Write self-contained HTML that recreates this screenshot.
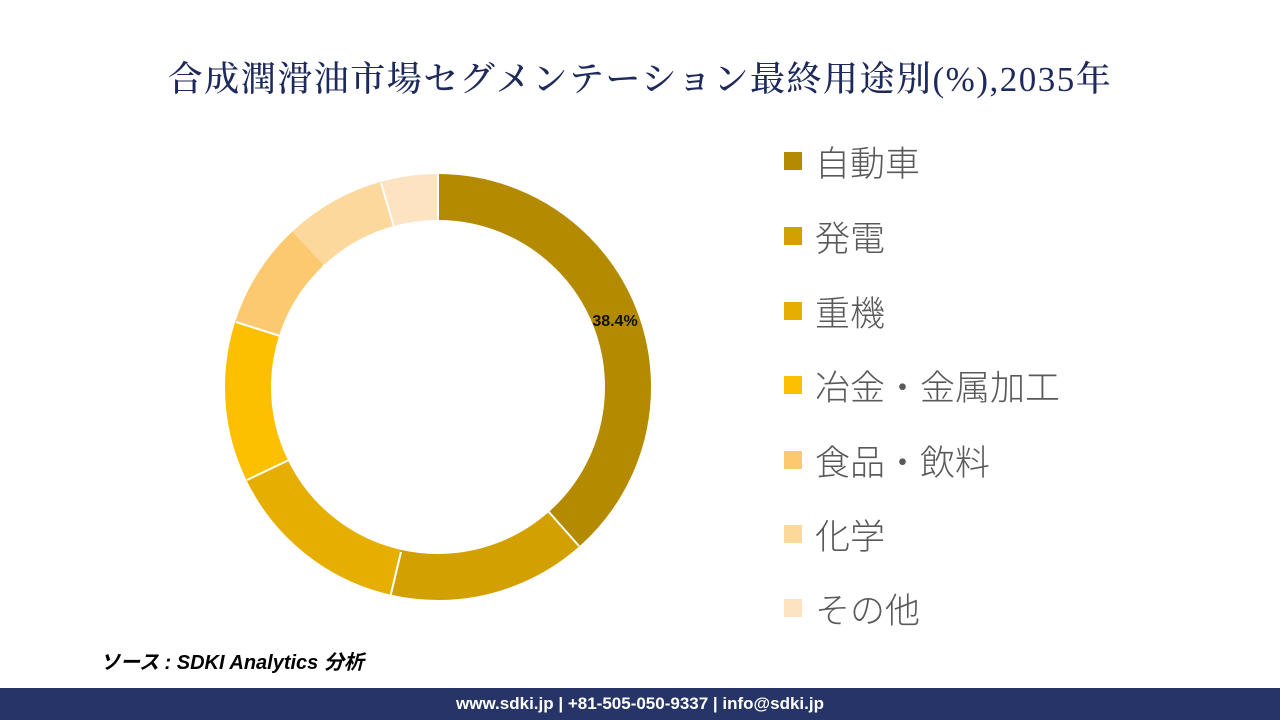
<!DOCTYPE html>
<html><head><meta charset="utf-8"><style>
body{margin:0;width:1280px;height:720px;background:#fff;position:relative;overflow:hidden;font-family:"Liberation Sans","Noto Sans CJK JP",sans-serif}
.title{position:absolute;top:52px;left:0;width:1280px;text-align:center;font-family:"Liberation Serif","Noto Serif CJK SC",serif;font-size:35px;letter-spacing:1.5px;color:#1f2a5c;font-weight:500}
.leg{position:absolute;left:784px;height:40px;display:flex;align-items:center}
.leg i{display:block;width:18px;height:18px;margin-right:13px}
.leg span{font-size:35px;color:#595959;font-weight:300}
.src{position:absolute;left:100px;top:646px;font-size:20px;font-style:italic;font-weight:bold;color:#000}
.foot{position:absolute;left:0;top:688px;width:1280px;height:32px;background:#263467;color:#fff;font-weight:bold;font-size:17px;text-align:center;line-height:32px}
</style></head><body>
<div class="title">合成潤滑油市場セグメンテーション最終用途別(%),2035年</div>
<svg width="1280" height="720" style="position:absolute;left:0;top:0">
<g transform="rotate(-90 438 387)" fill="none" stroke-width="46">
<circle cx="438" cy="387" r="190" stroke="#b38a00" stroke-dasharray="458.4 2000" stroke-dashoffset="0"/>
<circle cx="438" cy="387" r="190" stroke="#d2a000" stroke-dasharray="181.5 2000" stroke-dashoffset="-458.4"/>
<circle cx="438" cy="387" r="190" stroke="#e6ae00" stroke-dasharray="169.5 2000" stroke-dashoffset="-639.9"/>
<circle cx="438" cy="387" r="190" stroke="#fdc000" stroke-dasharray="145.6 2000" stroke-dashoffset="-809.4"/>
<circle cx="438" cy="387" r="190" stroke="#fcc970" stroke-dasharray="95.5 2000" stroke-dashoffset="-955.0"/>
<circle cx="438" cy="387" r="190" stroke="#fdd89c" stroke-dasharray="91.9 2000" stroke-dashoffset="-1050.5"/>
<circle cx="438" cy="387" r="190" stroke="#fde3c2" stroke-dasharray="51.3 2000" stroke-dashoffset="-1142.4"/>
</g>
<g stroke="#fff" stroke-width="2">
<line x1="438" y1="174" x2="438" y2="220"/>
<line x1="579" y1="546" x2="548" y2="511"/>
<line x1="390" y1="598" x2="401" y2="552"/>
<line x1="247" y1="480" x2="289" y2="460"/>
<line x1="236" y1="322" x2="280" y2="336"/>
<line x1="323" y1="265" x2="355" y2="299"/>
<line x1="381" y1="183" x2="394" y2="227"/>
</g>
<text x="615" y="326" text-anchor="middle" font-family="Liberation Sans" font-weight="bold" font-size="16" fill="#111">38.4%</text>
</svg>
<div class="leg" style="top:141px"><i style="background:#b38a00"></i><span>自動車</span></div>
<div class="leg" style="top:216px"><i style="background:#d2a000"></i><span>発電</span></div>
<div class="leg" style="top:291px"><i style="background:#e6ae00"></i><span>重機</span></div>
<div class="leg" style="top:365px"><i style="background:#fdc000"></i><span>冶金・金属加工</span></div>
<div class="leg" style="top:440px"><i style="background:#fcc970"></i><span>食品・飲料</span></div>
<div class="leg" style="top:514px"><i style="background:#fdd89c"></i><span>化学</span></div>
<div class="leg" style="top:588px"><i style="background:#fde3c2"></i><span>その他</span></div>
<div class="src">ソース : SDKI Analytics 分析</div>
<div class="foot">www.sdki.jp | +81-505-050-9337 | info@sdki.jp</div>
</body></html>
